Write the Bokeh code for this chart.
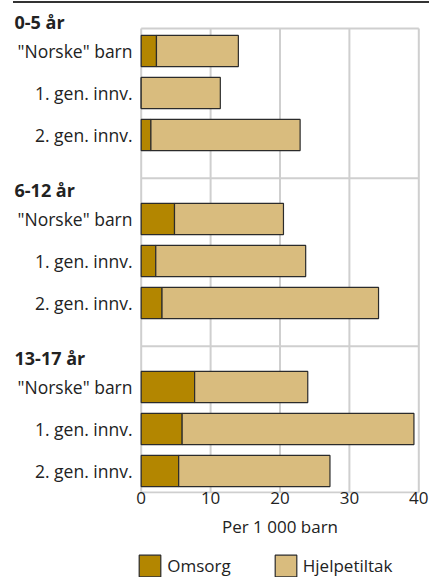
from bokeh.plotting import figure
from bokeh.models import (Range1d, FixedTicker, Legend, LegendItem,
                          ColumnDataSource, Div)
from bokeh.layouts import column
from bokeh.core.properties import value
from bokeh.embed import file_html
from bokeh.resources import INLINE

# ---- data ----
age_groups = ["0-5 år", "6-12 år", "13-17 år"]
categories = ['"Norske" barn', "1. gen. innv.", "2. gen. innv."]
omsorg_0_5 = [2.2, 0.0, 1.4]
omsorg_6_12 = [4.8, 2.1, 3.0]
omsorg_13_17 = [7.7, 5.9, 5.4]
hjelpetiltak_0_5 = [11.8, 11.4, 21.5]
hjelpetiltak_6_12 = [15.7, 21.6, 31.2]
hjelpetiltak_13_17 = [16.3, 33.4, 21.8]
x_ticks = [0, 10, 20, 30, 40]
x_label = "Per 1 000 barn"
series_names = ["Omsorg", "Hjelpetiltak"]

omsorg = [omsorg_0_5, omsorg_6_12, omsorg_13_17]
hjelpetiltak = [hjelpetiltak_0_5, hjelpetiltak_6_12, hjelpetiltak_13_17]

# ---- style / layout constants (page pixels) ----
FONT = "Open Sans"
FS_LAB = "17.5px"
FS_HEAD = "18px"
FS_AX = "17px"
TXT = "#222222"
GRID = "#cfcfcf"
colors = ["#B38600", "#D9BC7E"]
ROWS_PER_GROUP = len(categories) + 1
W = 429
ROW_PX = 42.0
FIRST_ROW_PX = 50.5           # y of the first bar centre
X0_PX, X40_PX = 140.7, 418.3  # x of value 0 and value 40
MAIN_TOP, MAIN_BOT = 3, 514
FRAME_BOT = 493
BOX_TOP, BOX_BOT = 28, 492
PAGE_H = 577

PX_PER_UNIT = (X40_PX - X0_PX) / (x_ticks[-1] - x_ticks[0])


def px_to_row(py):
    return (py - FIRST_ROW_PX) / ROW_PX


def px_to_x(px):
    return (px - X0_PX) / PX_PER_UNIT


ys, labels, om, hj = [], [], [], []
for g in range(len(age_groups)):
    for i, c in enumerate(categories):
        ys.append(g * ROWS_PER_GROUP + i)
        labels.append(c)
        om.append(omsorg[g][i])
        hj.append(hjelpetiltak[g][i])

src = ColumnDataSource(dict(y=ys, omsorg=om, hjelp=hj))

# ---------------- main chart ----------------
p = figure(width=W, height=MAIN_BOT - MAIN_TOP, output_backend="svg",
           toolbar_location=None,
           x_range=Range1d(px_to_x(0), px_to_x(W)),
           y_range=Range1d(px_to_row(FRAME_BOT), px_to_row(MAIN_TOP)),
           y_axis_location=None,
           min_border_left=0, min_border_right=0, min_border_top=0,
           min_border_bottom=MAIN_BOT - FRAME_BOT)
p.title.visible = False
p.background_fill_color = "white"
p.border_fill_color = "white"
p.outline_line_color = None
p.grid.visible = False

box_top, box_bot = px_to_row(BOX_TOP), px_to_row(BOX_BOT)
seps = [g * ROWS_PER_GROUP - 0.97 for g in range(1, len(age_groups))]
h_lines = [box_top] + seps + [box_bot]

# grid / box
p.segment(x0=x_ticks, x1=x_ticks, y0=[box_top] * len(x_ticks),
          y1=[box_bot] * len(x_ticks), line_color=GRID, line_width=2)
p.segment(x0=[x_ticks[0]] * len(h_lines), x1=[x_ticks[-1]] * len(h_lines),
          y0=h_lines, y1=h_lines, line_color=GRID, line_width=2)

rs = p.hbar_stack(["omsorg", "hjelp"], y="y", height=0.74, source=src,
                  fill_color=colors, line_color="#2b2b2b", line_width=1.2)

# category labels and group headers
p.text(x=[px_to_x(132)] * len(ys), y=ys, text=labels, text_align="right",
       text_baseline="middle", text_font=value(FONT), text_font_size=FS_LAB,
       text_color=TXT)
p.text(x=[px_to_x(14)] * len(age_groups),
       y=[g * ROWS_PER_GROUP - 0.69 for g in range(len(age_groups))],
       text=age_groups, text_align="left", text_baseline="middle",
       text_font=value(FONT), text_font_size=FS_HEAD, text_font_style="bold",
       text_color=TXT)

xa = p.xaxis[0]
xa.ticker = FixedTicker(ticks=x_ticks)
xa.axis_line_color = None
xa.major_tick_line_color = None
xa.minor_tick_line_color = None
xa.major_tick_out = 0
xa.major_tick_in = 0
xa.major_label_standoff = -2
xa.major_label_text_font = FONT
xa.major_label_text_font_size = FS_AX
xa.major_label_text_color = TXT

# ---------------- axis title + legend strip ----------------
strip = figure(width=W, height=PAGE_H - MAIN_BOT, output_backend="svg",
               toolbar_location=None,
               x_range=Range1d(0, W), y_range=Range1d(PAGE_H, MAIN_BOT),
               x_axis_location=None, y_axis_location=None, min_border=0)
strip.title.visible = False
strip.outline_line_color = None
strip.grid.visible = False
strip.background_fill_color = "white"
strip.border_fill_color = "white"

strip.text(x=[(X0_PX + X40_PX) / 2], y=[MAIN_BOT + 0.5], text=[x_label],
           text_align="center", text_baseline="top",
           text_font=value(FONT), text_font_size=FS_AX, text_color=TXT)

# legend swatch renderers (no visible data point of their own)
dummy = [strip.hbar(y=[float("nan")], right=[0], height=0, fill_color=c,
                    line_color="#2b2b2b", line_width=1.2) for c in colors]

legend = Legend(items=[LegendItem(label=n, renderers=[r])
                       for n, r in zip(series_names, dummy)],
                location=(136.3, -1.5), orientation="horizontal",
                glyph_width=27, glyph_height=27, label_height=27,
                label_standoff=4, spacing=41, padding=0, margin=0,
                border_line_color=None, background_fill_alpha=0,
                label_text_font=FONT, label_text_font_size=FS_AX,
                label_text_color=TXT)
strip.add_layout(legend)

rule = Div(text="", width=416, height=2, margin=(1, 0, 0, 13),
           styles={"background-color": "#333333"})

layout = column(rule, p, strip)
open("out.html", "w").write(file_html(layout, INLINE))
